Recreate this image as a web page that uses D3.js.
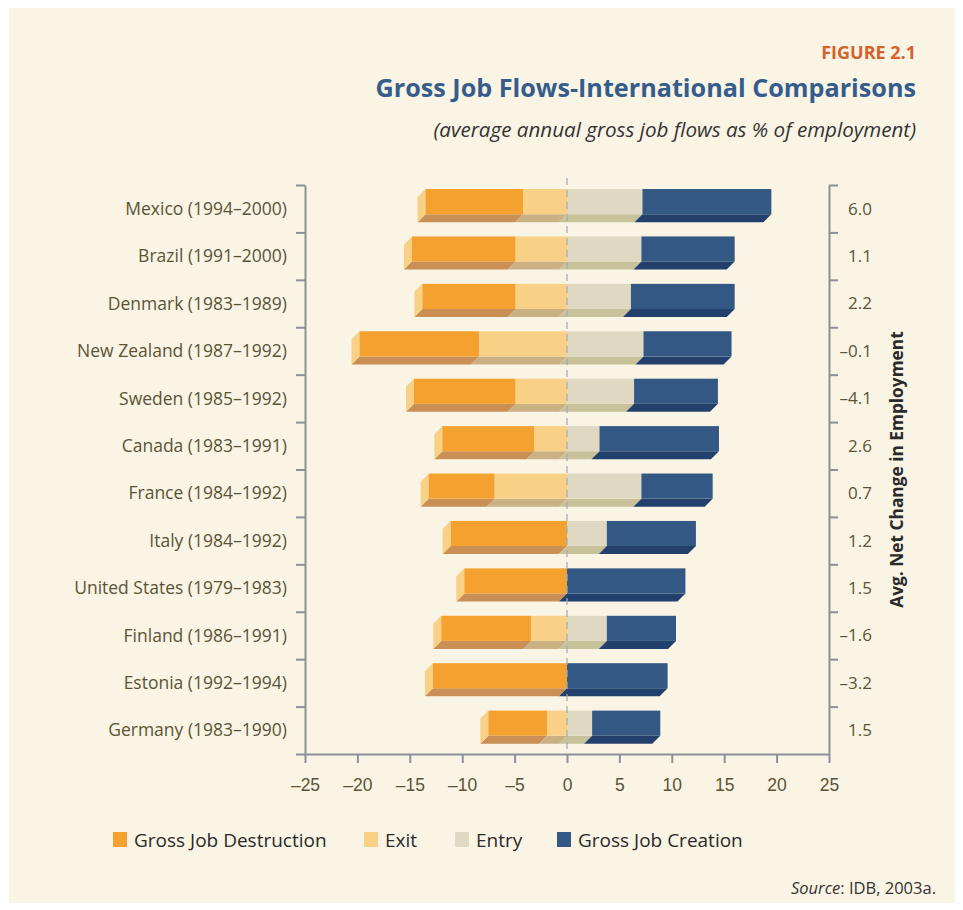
<!DOCTYPE html>
<html>
<head>
<meta charset="utf-8">
<script src="https://cdn.jsdelivr.net/npm/d3@7"></script>
<style>
  body { margin: 0; background: #ffffff; }
  svg { display: block; font-family: "Open Sans", sans-serif; }
</style>
</head>
<body>
<svg width="963" height="910"></svg>
<script>
const countries = [
  "Mexico (1994–2000)", "Brazil (1991–2000)", "Denmark (1983–1989)",
  "New Zealand (1987–1992)", "Sweden (1985–1992)", "Canada (1983–1991)",
  "France (1984–1992)", "Italy (1984–1992)", "United States (1979–1983)",
  "Finland (1986–1991)", "Estonia (1992–1994)", "Germany (1983–1990)"
];
// gross job destruction and its exit part (% of employment)
const destruction = [13.5, 14.8, 13.8, 19.8, 14.6, 11.9, 13.2, 11.1, 9.8, 12.0, 12.8, 7.5];
const exitPart    = [4.2, 4.9, 4.9, 8.4, 4.9, 3.1, 6.9, 0, 0, 3.4, 0, 1.9];
// gross job creation and its entry part
const entryPart   = [7.2, 7.1, 6.1, 7.3, 6.4, 3.1, 7.1, 3.8, 0, 3.8, 0, 2.4];
const creation    = [19.5, 16.0, 16.0, 15.7, 14.4, 14.5, 13.9, 12.3, 11.3, 10.4, 9.6, 8.9];
const netChange   = ["6.0", "1.1", "2.2", "–0.1", "–4.1", "2.6", "0.7", "1.2", "1.5", "–1.6", "–3.2", "1.5"];
const xTicks = [-25, -20, -15, -10, -5, 0, 5, 10, 15, 20, 25];
const legendNames = ["Gross Job Destruction", "Exit", "Entry", "Gross Job Creation"];

const svg = d3.select("svg");

const front = ["#f5a12f", "#f8d186", "#dfd9c3", "#325883"];
const bottom = ["#c98f55", "#c9b184", "#c8c29b", "#233f6b"];
const sideColor = "#f8d186";
const textColor = "#5b5335";
const axisColor = "#8d9096";

let chart = { left: 305, right: 829, top: 185, bottom: 754 };
const depth = 8;

svg.append("rect")
  .attr("x", 9).attr("y", 8)
  .attr("width", 946).attr("height", 895)
  .attr("fill", "#faf4e5");

const xScale = d3.scaleLinear()
  .domain([-25, 25])
  .range([chart.left, chart.right]);

const yScale = d3.scaleBand()
  .domain(countries)
  .range([chart.top, chart.bottom]);

const rowScale = d3.scaleLinear()
  .domain([0, countries.length])
  .range([chart.top, chart.bottom]);

const fmt = (d) => d < 0 ? "–" + Math.abs(d) : String(d);

// axes
const xAxis = svg.append("g")
  .attr("transform", "translate(0," + chart.bottom + ")")
  .call(d3.axisBottom(xScale).tickValues(xTicks).tickFormat(fmt).tickSize(9).tickSizeOuter(0));

const leftAxis = svg.append("g")
  .attr("transform", "translate(" + chart.left + ",0)")
  .call(d3.axisLeft(rowScale).tickValues(d3.range(countries.length + 1)).tickFormat("").tickSize(9).tickSizeOuter(0));

const rightAxis = svg.append("g")
  .attr("transform", "translate(" + chart.right + ",0)")
  .call(d3.axisRight(rowScale).tickValues(d3.range(countries.length)).tickFormat("").tickSize(9).tickSizeOuter(0));

[xAxis, leftAxis, rightAxis].forEach((g) => {
  g.selectAll("path, line").attr("stroke", axisColor).attr("stroke-width", 2);
});
xAxis.selectAll("text")
  .attr("fill", textColor)
  .attr("font-size", 17.5)
  .attr("dy", "1.4em");

// bars
const segments = [];
countries.forEach((c, i) => {
  const stops = [-destruction[i], -exitPart[i], 0, entryPart[i], creation[i]];
  for (let k = 0; k < 4; k++) {
    if (stops[k + 1] > stops[k]) {
      segments.push({ c: c, k: k, x0: stops[k], x1: stops[k + 1] });
    }
  }
});

const barTop = (c) => yScale(c) + yScale.bandwidth() * 0.085;
const barH = yScale.bandwidth() * 0.53;

let barGrp = svg.append("g");

// bottom faces
barGrp.selectAll("path.bottom").data(segments)
  .enter()
  .append("path")
  .attr("class", "bottom")
  .attr("d", (d) => {
    const a = xScale(d.x0), b = xScale(d.x1), y1 = barTop(d.c) + barH;
    return "M" + a + "," + y1 + "L" + b + "," + y1 +
      "L" + (b - depth) + "," + (y1 + depth) + "L" + (a - depth) + "," + (y1 + depth) + "Z";
  })
  .attr("fill", (d) => bottom[d.k]);

// left side faces
barGrp.selectAll("path.side").data(countries)
  .enter()
  .append("path")
  .attr("class", "side")
  .attr("d", (c, i) => {
    const a = xScale(-destruction[i]), y0 = barTop(c), y1 = y0 + barH;
    return "M" + a + "," + y0 + "L" + a + "," + y1 +
      "L" + (a - depth) + "," + (y1 + depth) + "L" + (a - depth) + "," + (y0 + depth) + "Z";
  })
  .attr("fill", sideColor);

// front faces
barGrp.selectAll("rect").data(segments)
  .enter()
  .append("rect")
  .attr("x", (d) => xScale(d.x0))
  .attr("y", (d) => barTop(d.c))
  .attr("width", (d) => xScale(d.x1) - xScale(d.x0))
  .attr("height", barH)
  .attr("fill", (d) => front[d.k]);

// zero line
svg.append("line")
  .attr("x1", xScale(0)).attr("x2", xScale(0))
  .attr("y1", chart.top - 7).attr("y2", chart.bottom)
  .attr("stroke", "#a7acb3")
  .attr("stroke-width", 1.5)
  .attr("stroke-dasharray", "7,5")
  .attr("opacity", 0.85);

// category labels
svg.append("g").selectAll("text").data(countries)
  .enter()
  .append("text")
  .attr("x", 287)
  .attr("y", (c) => yScale(c) + yScale.bandwidth() / 2)
  .attr("dy", "0.35em")
  .attr("text-anchor", "end")
  .attr("font-size", 17.5)
  .attr("fill", textColor)
  .text((c) => c);

// net change labels
svg.append("g").selectAll("text").data(netChange)
  .enter()
  .append("text")
  .attr("x", 872)
  .attr("y", (d, i) => yScale(countries[i]) + yScale.bandwidth() / 2)
  .attr("dy", "0.35em")
  .attr("text-anchor", "end")
  .attr("font-size", 17)
  .attr("fill", textColor)
  .text((d) => d);

svg.append("text")
  .attr("transform", "translate(903," + (chart.top + chart.bottom) / 2 + ") rotate(-90)")
  .attr("text-anchor", "middle")
  .attr("font-size", 17.3)
  .attr("font-weight", "bold")
  .attr("fill", "#2a2a2a")
  .text("Avg. Net Change in Employment");

// titles
svg.append("text")
  .attr("x", 916).attr("y", 59)
  .attr("text-anchor", "end")
  .attr("font-size", 18)
  .attr("font-weight", "bold")
  .attr("fill", "#d4622b")
  .text("FIGURE 2.1");

svg.append("text")
  .attr("x", 916).attr("y", 97)
  .attr("text-anchor", "end")
  .attr("font-size", 25.2)
  .attr("font-weight", "bold")
  .attr("fill", "#355d8c")
  .text("Gross Job Flows-International Comparisons");

svg.append("text")
  .attr("x", 916).attr("y", 137)
  .attr("text-anchor", "end")
  .attr("font-size", 20.6)
  .attr("font-style", "italic")
  .attr("fill", "#333333")
  .text("(average annual gross job flows as % of employment)");

// legend
const legendX = [113, 364, 455, 557];
let legend = svg.append("g").selectAll("g").data(legendNames)
  .enter()
  .append("g")
  .attr("transform", (d, i) => "translate(" + legendX[i] + ",840)");

legend.append("rect")
  .attr("x", 0).attr("y", -8)
  .attr("width", 14).attr("height", 15)
  .attr("fill", (d, i) => front[i]);

legend.append("text")
  .attr("x", 21)
  .attr("dy", "0.35em")
  .attr("font-size", 19)
  .attr("fill", "#2a2a2a")
  .text((d) => d);

const source = svg.append("text")
  .attr("x", 936).attr("y", 894)
  .attr("text-anchor", "end")
  .attr("font-size", 16.5)
  .attr("fill", "#333333");
source.append("tspan").attr("font-style", "italic").text("Source");
source.append("tspan").text(": IDB, 2003a.");
</script>
</body>
</html>
